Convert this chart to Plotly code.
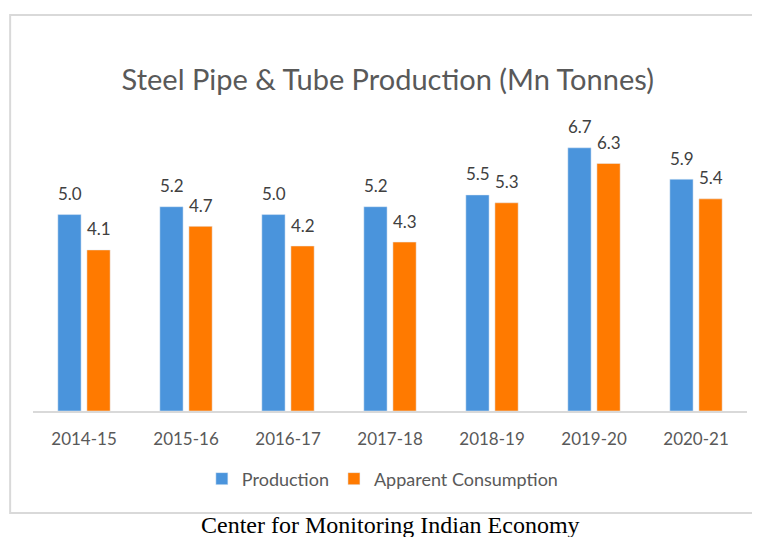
import plotly.graph_objects as go

years = ["2014-15", "2015-16", "2016-17", "2017-18", "2018-19", "2019-20", "2020-21"]
production = [5.0, 5.2, 5.0, 5.2, 5.5, 6.7, 5.9]
consumption = [4.1, 4.7, 4.2, 4.3, 5.3, 6.3, 5.4]

blue = "#4A94DC"
orange = "#FF7A00"
font = "Lato"

fig = go.Figure()
fig.add_trace(go.Bar(x=years, y=production, name="Production", marker_color=blue))
fig.add_trace(go.Bar(x=years, y=consumption, name="Apparent Consumption", marker_color=orange))

# data labels sitting above each bar, Excel style
for yr, p, c in zip(years, production, consumption):
    fig.add_annotation(x=yr, y=p, text="%.1f" % p, showarrow=False, xshift=-14.5, yshift=21,
                       font=dict(family=font, size=17, color="#404040"))
    fig.add_annotation(x=yr, y=c, text="%.1f" % c, showarrow=False, xshift=14.5, yshift=21,
                       font=dict(family=font, size=17, color="#404040"))

fig.add_annotation(xref="paper", yref="paper", x=0.5, y=-0.415, yanchor="middle",
                   text="Center for Monitoring Indian Economy", showarrow=False,
                   font=dict(family="Liberation Serif", size=24, color="#000000"))

# outer chart border
fig.add_shape(type="rect", xref="paper", yref="paper", x0=-0.032, x1=1.03, y0=-0.371, y1=1.44,
              line=dict(color="#d9d9d9", width=2), layer="below")

fig.update_layout(
    width=752, height=529,
    margin=dict(l=25, r=13, t=128, b=126),
    paper_bgcolor="white", plot_bgcolor="white",
    title=dict(text="Steel Pipe & Tube Production (Mn Tonnes)", x=0.505, xanchor="center",
               y=0.864, yanchor="middle", font=dict(family=font, size=29, color="#595959")),
    barmode="group", bargap=0.43, bargroupgap=0.2,
    showlegend=True,
    legend=dict(orientation="h", x=0.49, xanchor="center", y=-0.247, yanchor="middle",
                font=dict(family=font, size=18, color="#595959"), itemwidth=30),
    xaxis=dict(showline=True, linecolor="#d9d9d9", linewidth=1.5, showgrid=False,
               tickfont=dict(family=font, size=17, color="#595959"), ticklabelstandoff=12,
               fixedrange=True),
    yaxis=dict(range=[0, 7], visible=False, showgrid=False, fixedrange=True),
)

fig.write_html("out.html")
